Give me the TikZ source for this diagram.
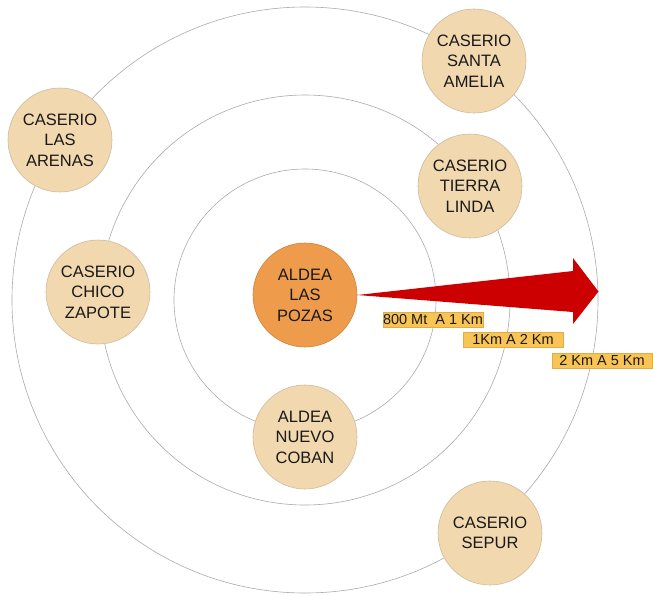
\documentclass[tikz,border=0pt]{standalone}
\usepackage{fontspec}
\setmainfont{Liberation Sans}
\definecolor{beige}{HTML}{F2D8AF}
\definecolor{beigeborder}{HTML}{CDBB9C}
\definecolor{pozas}{HTML}{EE9C4C}
\definecolor{arrowred}{HTML}{CC0000}
\definecolor{tagfill}{HTML}{F9C456}
\definecolor{tagborder}{HTML}{E2AC45}
\definecolor{ringgray}{HTML}{ABABAB}
\begin{document}
\begin{tikzpicture}[x=1pt,y=-1pt,
  ring/.style={draw=ringgray, line width=0.6pt},
  place/.style={circle, draw=beigeborder, line width=0.6pt, fill=beige, minimum size=104pt, inner sep=0pt, align=center, text=black!90, font=\fontsize{16.5}{20.5}\selectfont},
  center place/.style={place, fill=pozas, draw=pozas!85!black},
  tag/.style={rectangle, draw=tagborder, line width=0.6pt, fill=tagfill, minimum width=100pt, minimum height=15pt, inner sep=0pt, text=black!90, font=\fontsize{14.5}{15}\selectfont}]
\useasboundingbox (0,0) rectangle (653,595);
\fill[white] (0,0) rectangle (653,595);
\coordinate (c) at (305,300);
\draw[ring] (c) circle[radius=131pt];
\draw[ring] (c) circle[radius=205pt];
\draw[ring] (c) circle[radius=293pt];
\node[place] (amelia) at (474,61) {CASERIO\\SANTA\\AMELIA};
\node[place] (arenas) at (60,140) {CASERIO\\LAS\\ARENAS};
\node[place] (tierra) at (470,186) {CASERIO\\TIERRA\\LINDA};
\node[place] (chico) at (98,292) {CASERIO\\CHICO\\ZAPOTE};
\node[center place] (pozasnode) at (305,295) {ALDEA\\LAS\\POZAS};
\node[place] (coban) at (305,437) {ALDEA\\NUEVO\\COBAN};
\node[place] (sepur) at (490,533) {CASERIO\\SEPUR};
\coordinate (st) at (573,271);
\coordinate (ht) at (573,258);
\coordinate (tip) at (598.5,291.5);
\coordinate (hb) at (573,324);
\coordinate (sb) at (573,312);
\fill[arrowred] (pozasnode.east) -- (st) -- (ht) -- (tip) -- (hb) -- (sb) -- cycle;
\node[tag] (d1) at (433,319.5) {800 Mt\ \ A 1 Km};
\node[tag] (d2) at (513,339.5) {1Km A 2 Km};
\node[tag] (d3) at (602,360.5) {2 Km A 5 Km};
\end{tikzpicture}
\end{document}
